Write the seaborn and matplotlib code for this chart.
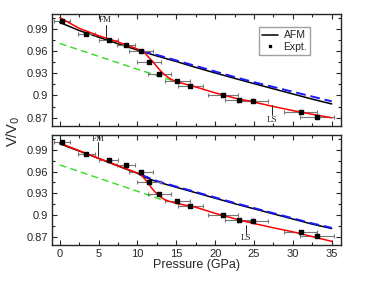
import numpy as np
import pandas as pd
import seaborn as sns
import matplotlib.pyplot as plt
from matplotlib.lines import Line2D
from matplotlib.ticker import MultipleLocator

# Experimental points (same in both panels)
p_exp = [0.3, 3.4, 6.3, 8.5, 10.5, 11.5, 12.8, 15.1, 16.8, 21.0, 23.1, 24.9, 31.0, 33.1]
v_exp = [1.0005, 0.9837, 0.9758, 0.9686, 0.9598, 0.9450, 0.9288, 0.9191, 0.9128, 0.9000, 0.8939, 0.8924, 0.8774, 0.8713]
p_err = [1.0, 1.07, 1.22, 1.18, 1.55, 1.5, 1.5, 1.6, 1.6, 1.93, 1.82, 1.93, 2.1, 2.15]
v_err = [0.001] * 14

# Top panel curves
p_afm = [0, 2.5, 5, 7.5, 10, 12.5, 15, 17.5, 20, 22.5, 25, 27.5, 30, 32.5, 35]
v_afm_top = [0.999, 0.988, 0.979, 0.970, 0.9615, 0.9535, 0.946, 0.938, 0.9305, 0.9232, 0.916, 0.909, 0.902, 0.895, 0.8885]
p_blue = [10.5, 12.5, 15, 17.5, 20, 22.5, 25, 27.5, 30, 32.5, 35]
v_blue_top = [0.9605, 0.955, 0.9475, 0.940, 0.9325, 0.925, 0.918, 0.9115, 0.905, 0.8985, 0.892]
p_red = [0, 2.5, 5, 7.5, 10, 10.5, 11, 11.5, 12, 12.5, 13, 13.5, 14, 14.5, 15, 17.5, 20, 22.5, 25, 27.5, 30, 32.5, 35]
v_red_top = [1.0055, 0.991, 0.981, 0.9725, 0.963, 0.9605, 0.957, 0.951, 0.9455, 0.939, 0.933, 0.928, 0.924, 0.921,
             0.9188, 0.9115, 0.9035, 0.8965, 0.891, 0.885, 0.8795, 0.8745, 0.8697]
p_green = [0, 5, 10, 12.5, 14.8]
v_green_top = [0.9705, 0.953, 0.9355, 0.927, 0.919]

# Bottom panel curves
p_afm_bot = [0, 2.5, 5, 7.5, 10, 11, 12.5, 15, 17.5, 20, 22.5, 25, 27.5, 30, 32.5, 35]
v_afm_bot = [0.998, 0.988, 0.978, 0.9675, 0.9575, 0.952, 0.946, 0.9384, 0.931, 0.9235, 0.916, 0.909, 0.902, 0.895, 0.888, 0.882]
p_blue_bot = [10.5, 12.5, 15, 17.5, 20, 22.5, 25, 27.5, 30, 32.5, 35]
v_blue_bot = [0.9555, 0.947, 0.9394, 0.932, 0.9245, 0.917, 0.910, 0.903, 0.896, 0.889, 0.883]
v_red_bot = [0.999, 0.9885, 0.978, 0.968, 0.958, 0.955, 0.949, 0.942, 0.935, 0.9295, 0.925, 0.9215, 0.9195, 0.918,
             0.9165, 0.9111, 0.9028, 0.8955, 0.8888, 0.883, 0.8775, 0.871, 0.8645]
p_green_bot = [0, 5, 10, 13.5]
v_green_bot = [0.969, 0.951, 0.933, 0.920]

# annotation positions: (text, x, text y, line top, line bottom)
ann_top = [("FM", 5.9, 1.0022, 0.9954, 0.9796), ("LS", 27.3, 0.8669, 0.8872, 0.8736)]
ann_bot = [("FM", 4.9, 1.0044, 0.9998, 0.9819), ("LS", 23.9, 0.8687, 0.8862, 0.8750)]

sns.set_style("ticks")
plt.rcParams['font.family'] = ['Liberation Sans', 'DejaVu Sans']

fig = plt.figure(figsize=(3.74, 2.89), dpi=100)
ax1 = fig.add_axes([0.138, 0.565, 0.774, 0.3855])
ax2 = fig.add_axes([0.138, 0.151, 0.774, 0.382])

GREEN = '#33dd22'


def draw_panel(ax, afm, blue, red, green, ann):
    sns.lineplot(x=green[0], y=green[1], ax=ax, color=GREEN, lw=1.0, linestyle=(0, (5, 3)))
    sns.lineplot(x=afm[0], y=afm[1], ax=ax, color='black', lw=1.1)
    sns.lineplot(x=blue[0], y=blue[1], ax=ax, color='#1a1aff', lw=1.4, linestyle=(0, (5, 2.5)))
    ax.errorbar(p_exp, v_exp, xerr=p_err, yerr=v_err, fmt='none', ecolor='#777777',
                elinewidth=0.8, capsize=1.5, capthick=0.8)
    sns.lineplot(x=red[0], y=red[1], ax=ax, color='red', lw=1.1)
    ax.scatter(p_exp, v_exp, marker='s', s=5, color='black', zorder=5)
    for txt, x, ty, l1, l2 in ann:
        ax.text(x, ty, txt, ha='center', va='center', fontsize=6.5, family='Liberation Serif')
        ax.plot([x, x], [l1, l2], color='black', lw=0.6)
    ax.set_xlim(-1.05, 36.2)
    ax.set_ylim(0.859, 1.010)
    ax.set_yticks([0.87, 0.9, 0.93, 0.96, 0.99])
    ax.set_yticklabels(['0.87', '0.9', '0.93', '0.96', '0.99'])
    ax.set_xticks([0, 5, 10, 15, 20, 25, 30, 35])
    ax.xaxis.set_minor_locator(MultipleLocator(2.5))
    ax.yaxis.set_minor_locator(MultipleLocator(0.015))
    ax.tick_params(which='both', direction='in', top=True, right=True, labelsize=8, width=0.8, pad=2.5)
    ax.tick_params(which='major', length=3.5)
    ax.tick_params(which='minor', length=2.5)
    for s in ax.spines.values():
        s.set_linewidth(1.0)
    ax.set_xlabel('')
    ax.set_ylabel('')


draw_panel(ax1, (p_afm, v_afm_top), (p_blue, v_blue_top), (p_red, v_red_top),
           (p_green, v_green_top), ann_top)
draw_panel(ax2, (p_afm_bot, v_afm_bot), (p_blue_bot, v_blue_bot), (p_red, v_red_bot),
           (p_green_bot, v_green_bot), ann_bot)

ax1.tick_params(labelbottom=False)
ax2.set_xlabel('Pressure (GPa)', fontsize=9, labelpad=0)
fig.text(0.036, 0.547, 'V/V$_0$', rotation=90, ha='center', va='center', fontsize=10.5)

handles = [Line2D([], [], color='black', lw=1.1),
           Line2D([], [], color='black', marker='s', markersize=2, lw=0)]
leg = ax1.legend(handles, ['AFM', 'Expt.'], loc='upper left', bbox_to_anchor=(0.715, 0.885),
                 fontsize=7.5, frameon=True, fancybox=False, handlelength=1.6, handletextpad=0.5,
                 borderpad=0.3, labelspacing=0.15, borderaxespad=0)
leg.get_frame().set_edgecolor('#888888')
leg.get_frame().set_linewidth(1.0)

fig.savefig('out.png', dpi=100)
